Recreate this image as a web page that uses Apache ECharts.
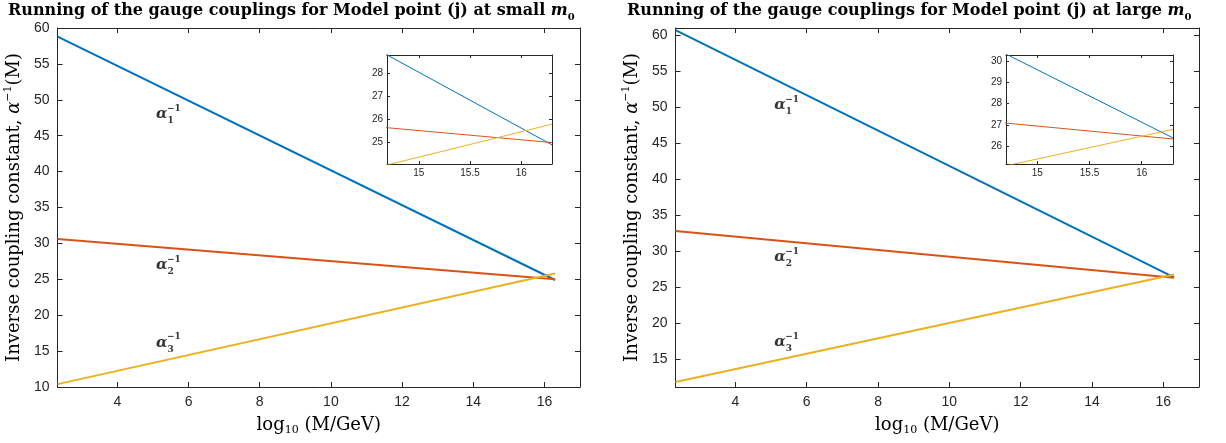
<!DOCTYPE html>
<html>
<head>
<meta charset="utf-8">
<script src="https://cdn.jsdelivr.net/npm/echarts@6/dist/echarts.min.js"></script>
<style>
  html, body { margin: 0; padding: 0; background: #fff; }
  #chart { width: 1226px; height: 443px; }
</style>
</head>
<body>
<div id="chart"></div>
<script>
// Scale (log10 of M in GeV) where the couplings are evaluated
const logM = [2.32, 16.3];

// Inverse gauge couplings, small m0 scenario
const smallA1 = [58.8, 24.9];
const smallA2 = [30.6, 25.0];
const smallA3 = [10.4, 25.8];

// Inverse gauge couplings, large m0 scenario
const largeA1 = [60.7, 26.4];
const largeA2 = [32.85, 26.35];
const largeA3 = [11.9, 26.8];

// Tick labels
const xTicks = [4, 6, 8, 10, 12, 14, 16];
const ySmallTicks = [10, 15, 20, 25, 30, 35, 40, 45, 50, 55, 60];
const yLargeTicks = [15, 20, 25, 30, 35, 40, 45, 50, 55, 60];
const insetXTicks = [15, 15.5, 16];
const insetSmallYTicks = [25, 26, 27, 28];
const insetLargeYTicks = [26, 27, 28, 29, 30];

// Curve labels (subscript index) and where they sit, in data units
const curveIndex = ['1', '2', '3'];
const labelLogM = [5.1, 5.1, 5.1];
const labelSmallY = [47.9, 26.85, 16.1];
const labelLargeY = [50.2, 29.1, 17.3];

const COLORS = ['#0072BD', '#D95319', '#EDB120'];
const AXIS = '#262626';
const SANS = 'Liberation Sans, Arial, sans-serif';
const SERIF = 'DejaVu Serif, serif';

const chart = echarts.init(document.getElementById('chart'), null, { renderer: 'canvas' });

const grids = [
  { left: 57.6, top: 28, width: 522.4, height: 359 },   // small m0, main
  { left: 387, top: 55, width: 165, height: 109 },      // small m0, zoom
  { left: 675.5, top: 28, width: 523.5, height: 359 },  // large m0, main
  { left: 1006, top: 55, width: 167, height: 109 }      // large m0, zoom
].map(g => Object.assign({ show: true, backgroundColor: '#fff', borderWidth: 0, containLabel: false }, g));

const xAxes = [];
const yAxes = [];

function addAxes(gi, xr, yr, xt, yt, main, names) {
  const fs = main ? 14 : 10;
  const tl = main ? 5 : 3;
  const line = { show: true, lineStyle: { color: AXIS, width: 1 } };
  const base = (ticks, showLabel, pos) => ({
    type: 'value', gridIndex: gi, position: pos,
    axisLine: line,
    splitLine: { show: false },
    axisTick: { show: true, inside: true, length: tl, customValues: ticks, lineStyle: { color: AXIS, width: 1 } },
    axisLabel: { show: showLabel, customValues: ticks, fontFamily: SANS, fontSize: fs, color: AXIS, margin: main ? 8 : 4 }
  });
  const xb = Object.assign(base(xt, true, 'bottom'), { min: xr[0], max: xr[1] });
  const xtp = Object.assign(base(xt, false, 'top'), { min: xr[0], max: xr[1] });
  const yl = Object.assign(base(yt, true, 'left'), { min: yr[0], max: yr[1] });
  const yrt = Object.assign(base(yt, false, 'right'), { min: yr[0], max: yr[1] });
  if (names) {
    Object.assign(xb, {
      name: '{r|log}{s|10}{r| (M/GeV)}', nameLocation: 'middle', nameGap: 27,
      nameTextStyle: {
        rich: {
          r: { fontFamily: SERIF, fontSize: 18, color: '#000', lineHeight: 22 },
          s: { fontFamily: SERIF, fontSize: 11, color: '#000', verticalAlign: 'bottom' }
        }
      }
    });
    Object.assign(yl, {
      name: '{r|Inverse coupling constant, }{i|α}{p|−1}{r|(M)}', nameLocation: 'middle', nameGap: 31,
      nameTextStyle: {
        rich: {
          r: { fontFamily: SERIF, fontSize: 18, color: '#000', lineHeight: 24 },
          i: { fontFamily: SERIF, fontStyle: 'italic', fontSize: 18, color: '#000' },
          p: { fontFamily: SERIF, fontSize: 11, color: '#000', verticalAlign: 'top' }
        }
      }
    });
  }
  xAxes.push(xb, xtp);
  yAxes.push(yl, yrt);
}

addAxes(0, [2.32, 17], [10, 60], xTicks, ySmallTicks, true, true);
addAxes(1, [14.69, 16.3], [24.07, 28.8], insetXTicks, insetSmallYTicks, false, false);
addAxes(2, [2.32, 17], [11.2, 61], xTicks, yLargeTicks, true, true);
addAxes(3, [14.70, 16.3], [25.18, 30.28], insetXTicks, insetLargeYTicks, false, false);

const series = [];
function addLines(gi, sets, width) {
  sets.forEach((vals, k) => {
    series.push({
      type: 'line', xAxisIndex: gi * 2, yAxisIndex: gi * 2, clip: true,
      showSymbol: false, symbol: 'none', silent: true,
      data: logM.map((x, i) => [x, vals[i]]),
      lineStyle: { color: COLORS[k], width: width },
      z: 3
    });
  });
}
addLines(0, [smallA1, smallA2, smallA3], 2);
addLines(1, [smallA1, smallA2, smallA3], 1);
addLines(2, [largeA1, largeA2, largeA3], 2);
addLines(3, [largeA1, largeA2, largeA3], 1);

function addCurveLabels(gi, ys) {
  const pts = ys.map((y, i) => ({ value: [labelLogM[i], y], idx: curveIndex[i] }));
  series.push({
    type: 'scatter', xAxisIndex: gi * 2, yAxisIndex: gi * 2, silent: true,
    symbolSize: 1, itemStyle: { color: 'rgba(0,0,0,0)' },
    data: pts,
    label: {
      show: true, position: [0, 0], align: 'left', verticalAlign: 'middle',
      formatter: p => '{a|α}{s|' + p.data.idx + '}',
      rich: {
        a: { fontFamily: SERIF, fontStyle: 'italic', fontWeight: 'bold', fontSize: 15, color: '#000', lineHeight: 22 },
        s: { fontFamily: SERIF, fontWeight: 'bold', fontSize: 9, color: '#000', verticalAlign: 'bottom' }
      }
    },
    z: 5
  });
  series.push({
    type: 'scatter', xAxisIndex: gi * 2, yAxisIndex: gi * 2, silent: true,
    symbolSize: 1, itemStyle: { color: 'rgba(0,0,0,0)' },
    data: pts,
    label: {
      show: true, position: [0, 0], align: 'left', verticalAlign: 'middle', offset: [11, -6],
      formatter: () => '−1',
      fontFamily: SERIF, fontWeight: 'bold', fontSize: 9, color: '#000'
    },
    z: 5
  });
}
addCurveLabels(0, labelSmallY);
addCurveLabels(2, labelLargeY);

const titleRich = {
  r: { fontFamily: SERIF, fontWeight: 'bold', fontSize: 16, color: '#000', lineHeight: 22 },
  i: { fontFamily: SERIF, fontStyle: 'italic', fontWeight: 'bold', fontSize: 16, color: '#000' },
  s: { fontFamily: SERIF, fontWeight: 'bold', fontSize: 10, color: '#000', verticalAlign: 'bottom' }
};

chart.setOption({
  animation: false,
  backgroundColor: '#fff',
  title: [
    { text: '{r|Running of the gauge couplings for Model point (j) at small }{i|m}{s|0}', left: 8, top: 0, padding: 0, textStyle: { rich: titleRich } },
    { text: '{r|Running of the gauge couplings for Model point (j) at large }{i|m}{s|0}', left: 627, top: 0, padding: 0, textStyle: { rich: titleRich } }
  ],
  grid: grids,
  xAxis: xAxes,
  yAxis: yAxes,
  series: series
});
</script>
</body>
</html>
